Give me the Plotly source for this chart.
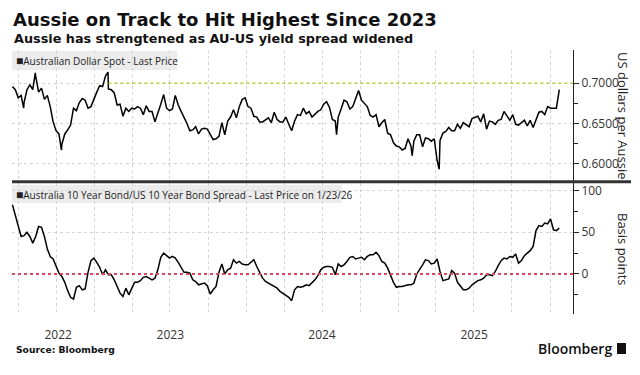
import pandas as pd
import plotly.graph_objects as go

# ---------------- data ----------------
TITLE = "Aussie on Track to Hit Highest Since 2023"
SUBTITLE = "Aussie has strengtened as AU-US yield spread widened"
AUD_NAME = "Australian Dollar Spot - Last Price"
SPREAD_NAME = "Australia 10 Year Bond/US 10 Year Bond Spread - Last Price on 1/23/26"
AUD_AXIS_TITLE = "US dollars per Aussie"
SPREAD_AXIS_TITLE = "Basis points"
SOURCE = "Source: Bloomberg"

first_week = "2022-06-17"  # weekly observations (Fridays) through 2026-01-23

aud_weekly = [
    0.696, 0.692, 0.682, 0.685, 0.676, 0.692, 0.698, 0.692, 0.709, 0.689,
    0.694, 0.680, 0.685, 0.671, 0.652, 0.641, 0.637, 0.624, 0.637, 0.642,
    0.648, 0.669, 0.666, 0.676, 0.681, 0.679, 0.669, 0.671, 0.681, 0.689,
    0.697, 0.696, 0.709, 0.693, 0.692, 0.688, 0.673, 0.674, 0.659, 0.669,
    0.665, 0.669, 0.668, 0.671, 0.669, 0.661, 0.672, 0.665, 0.665, 0.652,
    0.662, 0.674, 0.686, 0.669, 0.666, 0.668, 0.685, 0.673, 0.665, 0.658,
    0.650, 0.641, 0.642, 0.646, 0.637, 0.643, 0.644, 0.643, 0.637, 0.630,
    0.631, 0.634, 0.651, 0.636, 0.653, 0.658, 0.667, 0.657, 0.671, 0.680,
    0.682, 0.671, 0.669, 0.659, 0.658, 0.652, 0.652, 0.654, 0.657, 0.651,
    0.664, 0.655, 0.652, 0.652, 0.658, 0.649, 0.641, 0.653, 0.661, 0.660,
    0.669, 0.662, 0.665, 0.658, 0.662, 0.665, 0.667, 0.674, 0.677, 0.670,
    0.655, 0.653, 0.658, 0.668, 0.679, 0.677, 0.668, 0.671, 0.681, 0.691,
    0.679, 0.675, 0.671, 0.660, 0.658, 0.661, 0.646, 0.651, 0.655, 0.638,
    0.636, 0.626, 0.622, 0.621, 0.617, 0.619, 0.631, 0.622, 0.628, 0.636,
    0.636, 0.621, 0.632, 0.631, 0.628, 0.631, 0.604, 0.629, 0.638, 0.640,
    0.645, 0.641, 0.641, 0.649, 0.644, 0.651, 0.649, 0.646, 0.656, 0.658,
    0.659, 0.652, 0.662, 0.643, 0.653, 0.652, 0.649, 0.654, 0.655, 0.665,
    0.659, 0.654, 0.661, 0.649, 0.648, 0.651, 0.654, 0.647, 0.654, 0.645,
    0.655, 0.664, 0.665, 0.661, 0.671, 0.669, 0.669, 0.669, 0.692,
]

# intra-week extremes visible on the chart
aud_extreme_dates = ["2022-07-14", "2022-08-11", "2022-10-13", "2023-02-02",
                     "2024-08-05", "2025-02-03", "2025-04-09"]
aud_extreme_values = [0.669, 0.713, 0.617, 0.714, 0.636, 0.610, 0.593]

spread_weekly = [
    83, 70, 58, 45, 46, 50, 45, 37, 45, 57,
    56, 45, 30, 21, 18, 10, 1, -3, -10, -20,
    -28, -30, -16, -14, -19, -18, 2, 16, 19, 14,
    8, -1, 5, -1, -1, -7, -16, -23, -27, -17,
    -25, -18, -10, -10, -8, -4, -3, -5, -7, -5,
    5, 20, 25, 22, 19, 21, 19, 14, 7, 2,
    2, 1, -7, -9, -13, -12, -11, -14, -24, -19,
    -15, 2, 12, 0, 5, 7, 17, 13, 15, 12,
    11, 11, 14, 17, 9, 2, -5, -9, -11, -12,
    -14, -17, -21, -23, -26, -28, -32, -19, -15, -16,
    -15, -13, -14, -11, -7, -2, 5, 8, 9, 9,
    8, -1, 12, 9, 11, 15, 20, 21, 18, 19,
    20, 17, 21, 23, 23, 26, 22, 15, 13, 7,
    -2, -10, -16, -15, -15, -14, -13, -13, -11, 0,
    5, 11, 17, 16, 12, 13, 18, 3, -8, -7,
    -6, 4, 1, -10, -14, -19, -19, -17, -13, -10,
    -8, -7, -5, -1, -1, -2, 3, 10, 16, 19,
    18, 21, 20, 24, 13, 16, 22, 25, 28, 33,
    52, 58, 57, 61, 60, 66, 53, 52, 55,
]

aud_ref_level = 0.70
aud_ref_start = "2023-02-03"
spread_ref_level = 0

x_range = ["2022-06-16", "2026-02-25"]
year_tick_dates = ["2022-10-05", "2023-07-02", "2024-07-01", "2025-07-02"]
year_tick_labels = ["2022", "2023", "2024", "2025"]
quarter_starts = pd.date_range("2022-07-01", "2026-01-01", freq="QS")

aud_ticks = [0.60, 0.65, 0.70]
aud_minor_ticks = [0.625, 0.675]
spread_ticks = [0, 50, 100]
spread_minor_ticks = [-25, 25, 75]

# ---------------- build series ----------------
week_dates = pd.date_range(first_week, periods=len(aud_weekly), freq="7D")
aud = pd.concat([
    pd.Series(aud_weekly, index=week_dates),
    pd.Series(aud_extreme_values, index=pd.to_datetime(aud_extreme_dates)),
]).sort_index()
spread = pd.Series(spread_weekly, index=week_dates)

# ---------------- layout geometry (pixels) ----------------
W, H = 640, 375
L, R, T, B = 12, 573, 50, 314
TOP_BOTTOM_PX = 180.5
BOT_TOP_PX = 183


def px(x):
    return (x - L) / (R - L)


def py(y):
    return (B - y) / (B - T)


FONT = "DejaVu Sans"
TICKFONT = dict(family="Open Sans", size=12, color="#333333")
GRID = "#d4d4d4"

fig = go.Figure()
fig.add_trace(go.Scatter(x=aud.index, y=aud.values, mode="lines",
                         line=dict(color="#000000", width=1.5),
                         xaxis="x", yaxis="y", hoverinfo="skip"))
fig.add_trace(go.Scatter(x=spread.index, y=spread.values, mode="lines",
                         line=dict(color="#000000", width=1.5),
                         xaxis="x", yaxis="y2", hoverinfo="skip"))

fig.update_layout(
    width=W, height=H,
    margin=dict(l=L, r=W - R, t=T, b=H - B, autoexpand=False),
    paper_bgcolor="white", plot_bgcolor="white",
    showlegend=False,
    xaxis=dict(
        domain=[0, 1], range=x_range, anchor="y2", type="date",
        tickvals=year_tick_dates, ticktext=year_tick_labels,
        ticks="", showgrid=False, showline=False, zeroline=False,
        tickfont=TICKFONT, ticklabelstandoff=12,
        minor=dict(tickvals=list(quarter_starts), showgrid=True,
                   gridcolor=GRID, griddash="dot", gridwidth=1, ticks=""),
    ),
    yaxis=dict(
        domain=[py(TOP_BOTTOM_PX), 1], range=[0.5791, 0.7414],
        side="right", anchor="x",
        tickvals=aud_ticks, ticktext=[f"{v:.4f}" for v in aud_ticks],
        ticks="outside", ticklen=5, tickcolor="#222", tickwidth=1,
        showline=True, linecolor="#222", linewidth=1,
        showgrid=True, gridcolor=GRID, griddash="dot", gridwidth=1,
        zeroline=False, tickfont=TICKFONT,
        minor=dict(tickvals=aud_minor_ticks, ticks="outside", ticklen=4,
                   tickcolor="#222", showgrid=False),
    ),
    yaxis2=dict(
        domain=[0, py(BOT_TOP_PX)], range=[-48, 109.1],
        side="right", anchor="x",
        tickvals=spread_ticks, ticktext=[str(v) for v in spread_ticks],
        ticks="outside", ticklen=5, tickcolor="#222", tickwidth=1,
        showline=True, linecolor="#222", linewidth=1,
        showgrid=True, gridcolor=GRID, griddash="dot", gridwidth=1,
        zeroline=False, tickfont=TICKFONT,
        minor=dict(tickvals=spread_minor_ticks, ticks="outside", ticklen=4,
                   tickcolor="#222", showgrid=False),
    ),
)

shapes = [
    # legend boxes
    dict(type="rect", xref="paper", yref="paper", x0=px(12), x1=px(177),
         y0=py(70), y1=py(51), fillcolor="#ececec", line=dict(width=0), layer="below"),
    dict(type="rect", xref="paper", yref="paper", x0=px(12), x1=px(342),
         y0=py(203), y1=py(185), fillcolor="#ececec", line=dict(width=0), layer="below"),
    # reference lines
    dict(type="line", xref="x", yref="y", x0=aud_ref_start, x1=x_range[1],
         y0=aud_ref_level, y1=aud_ref_level,
         line=dict(color="#b7d13a", width=1.5, dash="dot")),
    dict(type="line", xref="x", yref="y2", x0=x_range[0], x1=x_range[1],
         y0=spread_ref_level, y1=spread_ref_level,
         line=dict(color="#d9475f", width=2, dash="dot")),
    # panel separator
    dict(type="line", xref="paper", yref="paper", x0=px(12), x1=px(631),
         y0=py(181.8), y1=py(181.8), line=dict(color="#333333", width=3)),
    # bloomberg icon
    dict(type="rect", xref="paper", yref="paper", x0=px(617), x1=px(626),
         y0=py(354), y1=py(343), fillcolor="#111111", line=dict(width=0)),
]
fig.update_layout(shapes=shapes)

SQUARE = "<span style='font-size:12px'>■</span>"
ann = [
    dict(text=f"<b>{TITLE}</b>", x=px(11), y=py(19), font=dict(family=FONT, size=18, color="#111")),
    dict(text=f"<b>{SUBTITLE}</b>", x=px(12), y=py(39), font=dict(family=FONT, size=12.8, color="#111")),
    dict(text=SQUARE + AUD_NAME, x=px(14), y=py(61), font=dict(family="Open Sans", size=10, color="#222")),
    dict(text=SQUARE + SPREAD_NAME, x=px(14), y=py(194), font=dict(family="Open Sans", size=10, color="#222")),
    dict(text=f"<b>{SOURCE}</b>", x=px(14), y=py(349), font=dict(family=FONT, size=9.2, color="#111")),
    dict(text="Bloomberg", x=px(614), y=py(348), xanchor="right",
         font=dict(family="Open Sans", size=14, color="#111", weight=600)),
    dict(text=AUD_AXIS_TITLE, x=px(623), y=py(116), textangle=90, xanchor="center",
         yanchor="middle", font=dict(family="Open Sans", size=13, color="#222")),
    dict(text=SPREAD_AXIS_TITLE, x=px(623), y=py(249), textangle=90, xanchor="center",
         yanchor="middle", font=dict(family="Open Sans", size=13, color="#222")),
]
for a in ann:
    a.setdefault("xanchor", "left")
    a.setdefault("yanchor", "middle")
    fig.add_annotation(xref="paper", yref="paper", showarrow=False, **a)

fig.write_html("out.html", config={"displayModeBar": False},
               post_script="document.body.style.margin='0';document.body.style.padding='0';")
